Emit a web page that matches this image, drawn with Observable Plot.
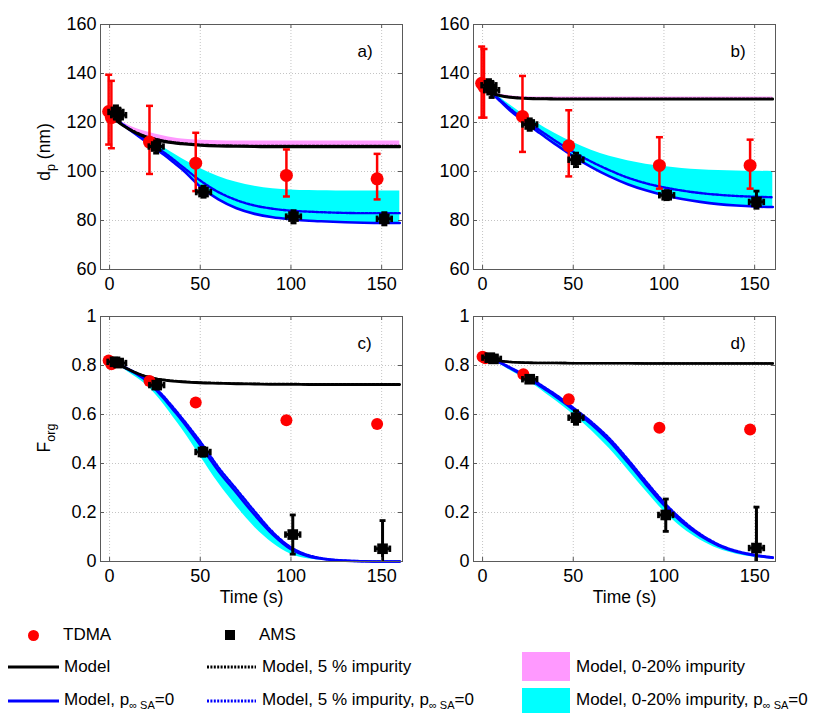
<!DOCTYPE html>
<html><head><meta charset="utf-8">
<script src="https://cdn.jsdelivr.net/npm/d3@7"></script>
<script src="https://cdn.jsdelivr.net/npm/@observablehq/plot@0.6"></script>
<style>
body{margin:0;background:#fff;}
#root{position:relative;width:830px;height:713px;overflow:hidden;font-family:"Liberation Sans",Arial,Helvetica,sans-serif;background:#fff;}
.panel{position:absolute;}
.lg{position:absolute;font-size:17px;line-height:17px;white-space:nowrap;color:#000;}
.lg sub{font-size:11px;vertical-align:-4px;line-height:0;}
.sw{position:absolute;}
</style></head><body><div id="root"></div>
<script>
// ---------- shared ----------
const xTicks = [0, 50, 100, 150];
const dpTicks = [60, 80, 100, 120, 140, 160];
const forgTicks = [0, 0.2, 0.4, 0.6, 0.8, 1];
const modelT = [2,5,10,15,20,25,30,35,40,50,60,70,80,90,100,110,120,130,140,150,160];

// ---------- panel a (d_p, nm) ----------
const tdmaA_t  = [-0.5, 1, 22, 47.5, 97.5, 147.5];
const tdmaA_y  = [124.5, 122, 112, 103.4, 98.4, 97];
const tdmaA_lo = [111, 109.5, 99, 92, 89.8, 88.6];
const tdmaA_hi = [139.5, 137, 126.8, 115.8, 109, 107.2];
const amsA_t   = [3.5, 5, 25.7, 51.8, 101.4, 151.5];
const amsA_tLo = [-0.5, 1, 21.7, 47.8, 97.4, 147.5];
const amsA_tHi = [7.5, 9, 29.7, 55.8, 105.4, 155.5];
const amsA_y   = [124.3, 123, 110.2, 91.6, 81.6, 80.7];
const amsA_lo  = [121.5, 120.5, 107.5, 89.5, 79, 78.2];
const amsA_hi  = [126.8, 125.5, 112.5, 94, 84, 83.2];
const blackA    = [122,120,117.5,115.5,114,113,112.2,111.6,111.2,110.6,110.3,110.2,110.1,110,110,110,110,110,110,110,110];
const blackDotA = [122,120.2,117.8,115.9,114.4,113.4,112.6,112,111.6,111,110.7,110.6,110.5,110.5,110.5,110.5,110.5,110.5,110.5,110.5,110.5];
const pinkLoA   = [122,120.1,117.6,115.7,114.2,113.2,112.4,111.8,111.4,110.8,110.5,110.4,110.3,110.3,110.3,110.3,110.3,110.3,110.3,110.3,110.3];
const pinkHiA   = [122,120.8,119,117.5,116.3,115.3,114.5,113.8,113.3,112.8,112.6,112.5,112.5,112.5,112.5,112.5,112.5,112.5,112.5,112.5,112.5];
const blueA     = [122,120.3,117.6,114.9,112.2,109.6,106.8,103.9,100.9,93.8,88.6,85,82.7,81.3,80.5,79.9,79.6,79.3,79.1,79,79];
const blueDotA  = [122,120.4,117.9,115.4,112.9,110.4,107.8,105,102.1,96.3,91.6,88.3,86.1,84.8,84,83.6,83.3,83.1,83,83,83];
const cyanLoA   = [122,120.3,117.6,114.9,112.2,109.6,106.8,103.9,100.9,93.8,88.6,85,82.7,81.3,80.5,79.9,79.6,79.3,79.1,79,79];
const cyanHiA   = [122,120.8,118.6,116.4,114.2,112,109.7,107.4,105.2,101.2,98,95.6,94,93,92.5,92.2,92.1,92,92,92,92];

// ---------- panel b (d_p, nm) ----------
const tdmaB_t  = [-0.5, 0.8, 22, 47.5, 97.5, 147.5];
const tdmaB_y  = [136, 134.5, 122.5, 110.5, 102.5, 102.5];
const tdmaB_lo = [122, 122, 108, 98, 93, 93];
const tdmaB_hi = [151, 150, 139, 125, 114, 113];
const amsB_t   = [3.5, 5, 26, 51.5, 101.5, 151];
const amsB_tLo = [-0.5, 1, 22, 47.5, 97.5, 147];
const amsB_tHi = [7.5, 9, 30, 55.5, 105.5, 155];
const amsB_y   = [135.2, 133.2, 119.2, 104.8, 90.3, 87.6];
const amsB_lo  = [132.5, 130.2, 116.8, 102, 88.5, 85];
const amsB_hi  = [137.5, 136.2, 121.5, 107.5, 92.2, 92];
const blackB    = [134,132,130.8,130.2,129.9,129.7,129.6,129.6,129.5,129.5,129.5,129.5,129.5,129.5,129.5,129.5,129.5,129.5,129.5,129.5,129.5];
const blackDotB = [134,132.3,131.1,130.5,130.2,130,129.9,129.9,129.8,129.8,129.8,129.8,129.8,129.8,129.8,129.8,129.8,129.8,129.8,129.8,129.8];
const pinkLoB   = [134,132,130.8,130.2,129.9,129.7,129.6,129.6,129.5,129.5,129.5,129.5,129.5,129.5,129.5,129.5,129.5,129.5,129.5,129.5,129.5];
const pinkHiB   = [134,132.6,131.5,130.9,130.6,130.5,130.4,130.4,130.4,130.4,130.4,130.4,130.4,130.4,130.4,130.4,130.4,130.4,130.4,130.4,130.4];
const blueB     = [134,132,128.5,125,122,119.2,116.5,113.8,111.2,106.2,101.8,98,94.8,92.3,90.3,88.8,87.6,86.7,86.1,85.7,85.5];
const blueDotB  = [134,132.2,129,125.8,122.8,120.2,117.6,115.1,112.6,108,104,100.5,97.5,95.2,93.5,92.2,91.2,90.5,90,89.7,89.5];
const cyanLoB   = [134,132,128.5,125,122,119.2,116.5,113.8,111.2,106.2,101.8,98,94.8,92.3,90.3,88.8,87.6,86.7,86.1,85.7,85.5];
const cyanHiB   = [134,132.8,130,127.2,124.6,122.2,119.8,117.6,115.5,111.8,108.7,106.2,104.4,103,102,101.2,100.7,100.4,100.2,100.1,100];

// ---------- panel c (F_org) ----------
const tdmaC_t  = [-0.5, 1, 22, 47.5, 97.5, 147.5];
const tdmaC_y  = [0.82, 0.805, 0.737, 0.649, 0.577, 0.561];
const amsC_t   = [3, 5, 26, 51.5, 101, 150.5];
const amsC_tLo = [-1, 1, 22, 47.5, 97, 146.5];
const amsC_tHi = [7, 9, 30, 55.5, 105, 154.5];
const amsC_y   = [0.815, 0.81, 0.72, 0.447, 0.11, 0.052];
const amsC_lo  = [0.8, 0.795, 0.705, 0.43, 0.03, -0.06];
const amsC_hi  = [0.83, 0.825, 0.735, 0.465, 0.19, 0.167];
const blackC    = [0.815,0.805,0.785,0.768,0.755,0.746,0.74,0.736,0.733,0.729,0.727,0.725,0.724,0.723,0.723,0.722,0.722,0.722,0.722,0.722,0.722];
const blackDotC = [0.815,0.806,0.787,0.77,0.757,0.748,0.742,0.738,0.735,0.731,0.729,0.727,0.726,0.725,0.725,0.724,0.724,0.724,0.724,0.724,0.724];
const blueC     = [0.815,0.805,0.785,0.765,0.74,0.705,0.665,0.62,0.575,0.475,0.37,0.28,0.19,0.11,0.05,0.02,0.008,0.003,0.001,0,0];
const blueDotC  = [0.815,0.806,0.787,0.768,0.745,0.712,0.673,0.63,0.585,0.49,0.385,0.295,0.205,0.12,0.058,0.025,0.01,0.004,0.001,0,0];
const cyanLoC   = [0.815,0.8,0.775,0.75,0.722,0.685,0.64,0.59,0.54,0.43,0.32,0.225,0.14,0.075,0.03,0.01,0.004,0.001,0,0,0];
const cyanHiC   = [0.815,0.806,0.787,0.768,0.745,0.712,0.673,0.63,0.585,0.49,0.385,0.295,0.205,0.12,0.058,0.025,0.01,0.004,0.001,0,0];

// ---------- panel d (F_org) ----------
const tdmaD_t  = [0, 1.5, 22.5, 47.5, 97.5, 147.5];
const tdmaD_y  = [0.836, 0.83, 0.764, 0.662, 0.546, 0.539];
const amsD_t   = [4, 6, 26, 51.5, 101, 151];
const amsD_tLo = [0, 2, 22, 47.5, 97, 147];
const amsD_tHi = [8, 10, 30, 55.5, 105, 155];
const amsD_y   = [0.832, 0.827, 0.744, 0.587, 0.19, 0.055];
const amsD_lo  = [0.82, 0.815, 0.733, 0.56, 0.123, -0.113];
const amsD_hi  = [0.844, 0.839, 0.755, 0.615, 0.255, 0.222];
const blackD    = [0.835,0.826,0.818,0.814,0.812,0.811,0.81,0.81,0.81,0.809,0.809,0.809,0.809,0.808,0.808,0.808,0.808,0.808,0.808,0.808,0.808];
const blackDotD = [0.835,0.827,0.819,0.815,0.813,0.812,0.811,0.811,0.811,0.81,0.81,0.81,0.81,0.809,0.809,0.809,0.809,0.809,0.809,0.809,0.809];
const blueD     = [0.835,0.828,0.81,0.79,0.77,0.748,0.725,0.7,0.675,0.62,0.56,0.49,0.405,0.315,0.23,0.16,0.105,0.065,0.04,0.025,0.015];
const blueDotD  = [0.835,0.829,0.812,0.793,0.774,0.753,0.731,0.707,0.683,0.628,0.57,0.502,0.418,0.328,0.242,0.17,0.112,0.07,0.043,0.027,0.017];
const cyanLoD   = [0.835,0.825,0.803,0.781,0.76,0.738,0.712,0.685,0.658,0.6,0.535,0.46,0.375,0.288,0.205,0.138,0.088,0.052,0.03,0.017,0.01];
const cyanHiD   = [0.835,0.829,0.812,0.793,0.774,0.753,0.731,0.707,0.683,0.628,0.57,0.502,0.418,0.328,0.242,0.17,0.112,0.07,0.043,0.027,0.017];

// ---------- drawing ----------
const FONT = '"Liberation Sans", Arial, Helvetica, sans-serif';
const RED = "#ff0000", BLUE = "#0000ff", CYAN = "#00ffff", PINK = "#ff99ff";
const hCap = {draw(ctx, size){ const r = Math.sqrt(size / Math.PI); ctx.moveTo(-r, 0); ctx.lineTo(r, 0); }};
const vCap = {draw(ctx, size){ const r = Math.sqrt(size / Math.PI); ctx.moveTo(0, -r); ctx.lineTo(0, r); }};
const IW = 302, IH = 245;

function makePanel(o) {
  const rows = modelT.map((t, i) => ({
    t, black: o.black[i], blackDot: o.blackDot[i], blue: o.blue[i], blueDot: o.blueDot[i],
    cLo: o.cyanLo[i], cHi: o.cyanHi[i],
    pLo: o.pinkLo ? o.pinkLo[i] : null, pHi: o.pinkHi ? o.pinkHi[i] : null
  }));
  const tdma = o.tdma.t.map((t, i) => ({t, y: o.tdma.y[i], lo: o.tdma.lo ? o.tdma.lo[i] : null, hi: o.tdma.hi ? o.tdma.hi[i] : null}));
  const ams = o.ams.t.map((t, i) => ({t, tLo: o.ams.tLo[i], tHi: o.ams.tHi[i], y: o.ams.y[i], lo: o.ams.lo[i], hi: o.ams.hi[i]}));
  const curve = "monotone-x";
  const grid = {stroke: "#c4c4c4", strokeOpacity: 1, strokeDasharray: "1,2", strokeWidth: 1};
  const marks = [
    Plot.ruleX(xTicks, grid),
    Plot.ruleY(o.yTicks, grid),
    Plot.areaY(rows, {x: "t", y1: "cLo", y2: "cHi", fill: CYAN, curve}),
    o.pinkLo ? Plot.areaY(rows, {x: "t", y1: "pLo", y2: "pHi", fill: PINK, curve}) : null,
    Plot.line(rows, {x: "t", y: "blue", stroke: BLUE, strokeWidth: 2.6, curve}),
    Plot.line(rows, {x: "t", y: "blueDot", stroke: BLUE, strokeWidth: 2.4, strokeDasharray: "2.5,1.6", curve}),
    Plot.line(rows, {x: "t", y: "black", stroke: "#000", strokeWidth: 2.6, curve}),
    Plot.line(rows, {x: "t", y: "blackDot", stroke: "#000", strokeWidth: 2.2, strokeDasharray: "2.5,1.6", curve}),
  ];
  if (o.tdma.lo) {
    marks.push(
      Plot.ruleX(tdma, {x: "t", y1: "lo", y2: "hi", stroke: RED, strokeWidth: 2.5}),
      Plot.dot(tdma, {x: "t", y: "lo", symbol: hCap, r: 3.5, stroke: RED, strokeWidth: 2.5, fill: "none"}),
      Plot.dot(tdma, {x: "t", y: "hi", symbol: hCap, r: 3.5, stroke: RED, strokeWidth: 2.5, fill: "none"})
    );
  }
  marks.push(
    Plot.dot(tdma, {x: "t", y: "y", r: o.rT, fill: RED, stroke: null}),
    Plot.ruleX(ams, {x: "t", y1: "lo", y2: "hi", stroke: "#000", strokeWidth: 3, clip: true}),
    Plot.dot(ams, {x: "t", y: "lo", symbol: hCap, r: 3, stroke: "#000", strokeWidth: 2.8, fill: "none", clip: true}),
    Plot.dot(ams, {x: "t", y: "hi", symbol: hCap, r: 3, stroke: "#000", strokeWidth: 2.8, fill: "none"}),
    Plot.ruleY(ams, {y: "y", x1: "tLo", x2: "tHi", stroke: "#000", strokeWidth: 3}),
    Plot.dot(ams, {x: "tLo", y: "y", symbol: vCap, r: 3.2, stroke: "#000", strokeWidth: 2.8, fill: "none"}),
    Plot.dot(ams, {x: "tHi", y: "y", symbol: vCap, r: 3.2, stroke: "#000", strokeWidth: 2.8, fill: "none"}),
    Plot.dot(ams, {x: "t", y: "y", symbol: "square", r: 6, fill: "#000", stroke: null}),
    Plot.frame({stroke: "#5a5a5a", strokeWidth: 1}),
    Plot.ruleX(xTicks, {insetTop: IH - 4, stroke: "#5a5a5a"}),
    Plot.ruleX(xTicks, {insetBottom: IH - 4, stroke: "#5a5a5a"}),
    Plot.ruleY(o.yTicks, {insetRight: IW - 4, stroke: "#5a5a5a"}),
    Plot.ruleY(o.yTicks, {insetLeft: IW - 4, stroke: "#5a5a5a"}),
    Plot.axisX({ticks: xTicks, tickSize: 0, tickPadding: 8, label: null, fontSize: 18, tickFormat: d => String(d)}),
    Plot.axisY({ticks: o.yTicks, tickSize: 0, tickPadding: 4, label: null, fontSize: 18, tickFormat: d => String(d)}),
    Plot.text([o.tag], {text: d => d, frameAnchor: "top-right", textAnchor: "start", dx: -45, dy: 20, fontSize: 17})
  );
  if (o.xlabel) marks.push(Plot.text([o.xlabel], {text: d => d, frameAnchor: "bottom", dy: 41, fontSize: 17.5}));
  const svg = Plot.plot({
    width: o.width, height: o.height,
    marginLeft: o.ml, marginRight: o.width - o.ml - IW, marginTop: 24, marginBottom: o.height - 24 - IH,
    x: {domain: [-5, 161.5]},
    y: {domain: o.yDomain},
    style: {fontFamily: FONT, fontSize: "18px", background: "transparent", color: "#000", overflow: "visible"},
    marks: marks.filter(Boolean)
  });
  if (o.ylabel) {
    const t = d3.select(svg).append("text")
      .attr("transform", `translate(50,${o.ylabel.cy}) rotate(-90)`)
      .attr("text-anchor", "middle").attr("font-size", 17.5).attr("font-family", FONT).attr("fill", "#000");
    t.append("tspan").text(o.ylabel.main);
    t.append("tspan").attr("dy", 5).attr("font-size", 12.5).text(o.ylabel.sub);
    t.append("tspan").attr("dy", -5).text(o.ylabel.rest);
  }
  svg.classList.add("panel");
  svg.style.position = "absolute";
  svg.style.left = o.left + "px";
  svg.style.top = o.top + "px";
  document.getElementById("root").appendChild(svg);
}

makePanel({left: 0, top: 0, width: 415, height: 300, ml: 100, yDomain: [60, 160], yTicks: dpTicks, tag: "a)", rT: 6.5,
  tdma: {t: tdmaA_t, y: tdmaA_y, lo: tdmaA_lo, hi: tdmaA_hi},
  ams: {t: amsA_t, tLo: amsA_tLo, tHi: amsA_tHi, y: amsA_y, lo: amsA_lo, hi: amsA_hi},
  black: blackA, blackDot: blackDotA, blue: blueA, blueDot: blueDotA, cyanLo: cyanLoA, cyanHi: cyanHiA, pinkLo: pinkLoA, pinkHi: pinkHiA,
  ylabel: {cy: 152, main: "d", sub: "p", rest: " (nm)"}});
makePanel({left: 415, top: 0, width: 415, height: 300, ml: 58, yDomain: [60, 160], yTicks: dpTicks, tag: "b)", rT: 6.5,
  tdma: {t: tdmaB_t, y: tdmaB_y, lo: tdmaB_lo, hi: tdmaB_hi},
  ams: {t: amsB_t, tLo: amsB_tLo, tHi: amsB_tHi, y: amsB_y, lo: amsB_lo, hi: amsB_hi},
  black: blackB, blackDot: blackDotB, blue: blueB, blueDot: blueDotB, cyanLo: cyanLoB, cyanHi: cyanHiB, pinkLo: pinkLoB, pinkHi: pinkHiB});
makePanel({left: 0, top: 292, width: 415, height: 321, ml: 100, yDomain: [0, 1], yTicks: forgTicks, tag: "c)", rT: 6,
  tdma: {t: tdmaC_t, y: tdmaC_y},
  ams: {t: amsC_t, tLo: amsC_tLo, tHi: amsC_tHi, y: amsC_y, lo: amsC_lo, hi: amsC_hi},
  black: blackC, blackDot: blackDotC, blue: blueC, blueDot: blueDotC, cyanLo: cyanLoC, cyanHi: cyanHiC,
  xlabel: "Time (s)", ylabel: {cy: 146, main: "F", sub: "org", rest: ""}});
makePanel({left: 415, top: 292, width: 415, height: 321, ml: 58, yDomain: [0, 1], yTicks: forgTicks, tag: "d)", rT: 6,
  tdma: {t: tdmaD_t, y: tdmaD_y},
  ams: {t: amsD_t, tLo: amsD_tLo, tHi: amsD_tHi, y: amsD_y, lo: amsD_lo, hi: amsD_hi},
  black: blackD, blackDot: blackDotD, blue: blueD, blueDot: blueDotD, cyanLo: cyanLoD, cyanHi: cyanHiD,
  xlabel: "Time (s)"});

// ---------- legend ----------
const root = document.getElementById("root");
function add(html) { root.insertAdjacentHTML("beforeend", html); }
function label(x, cy, html) { add(`<div class="lg" style="left:${x}px;top:${cy - 9}px">${html}</div>`); }
function lineSw(x1, x2, cy, color, dash) {
  add(`<svg class="sw" style="left:${x1}px;top:${cy - 3}px" width="${x2 - x1}" height="6"><line x1="0" x2="${x2 - x1}" y1="3" y2="3" stroke="${color}" stroke-width="3" ${dash ? `stroke-dasharray="${dash}"` : ""}/></svg>`);
}
const SUB = "p<sub>\u221E SA</sub>=0";
add(`<svg class="sw" style="left:27px;top:629px" width="13" height="13"><circle cx="6.5" cy="6.5" r="5.5" fill="${RED}"/></svg>`);
label(63, 635, "TDMA");
add(`<svg class="sw" style="left:225px;top:630px" width="10" height="10"><rect width="10" height="10" fill="#000"/></svg>`);
label(259, 635, "AMS");
lineSw(8, 59, 667, "#000");
label(64, 667, "Model");
lineSw(207, 256, 667, "#000", "2,1.4");
label(262, 667, "Model, 5 % impurity");
add(`<div class="sw" style="left:522px;top:652px;width:48px;height:29px;background:${PINK}"></div>`);
label(576, 667, "Model, 0-20% impurity");
lineSw(8, 59, 701, BLUE);
label(64, 700, "Model, " + SUB);
lineSw(207, 256, 701, BLUE, "2,1.4");
label(262, 700, "Model, 5 % impurity, " + SUB);
add(`<div class="sw" style="left:522px;top:688px;width:48px;height:30px;background:${CYAN}"></div>`);
label(576, 700, "Model, 0-20% impurity, " + SUB);
</script>
</body></html>
